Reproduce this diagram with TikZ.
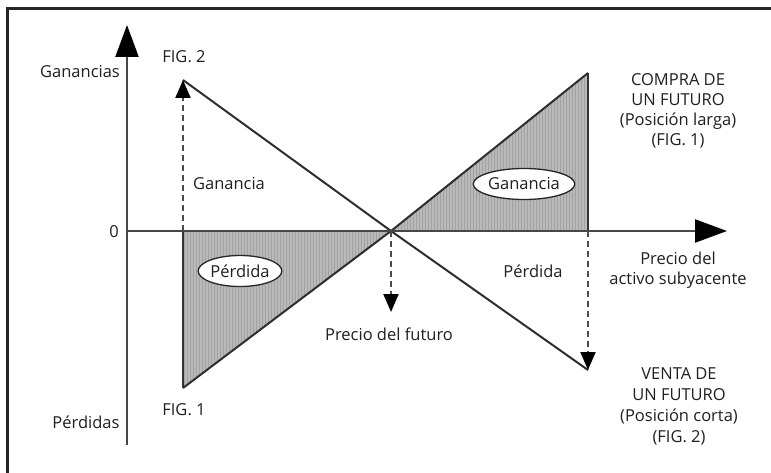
\documentclass[tikz,border=0pt]{standalone}
\usepackage{fontspec}
\setmainfont{Open Sans}
\usetikzlibrary{arrows.meta,shapes.geometric}
\begin{document}
\begin{tikzpicture}[x=1pt,y=-1pt,
  lbl/.style={font=\fontsize{16.5}{20}\selectfont, text=black!88, inner sep=0pt, align=center},
  axisline/.style={line width=2.4pt, draw=black!72, -{Triangle[length=32pt,width=23pt,fill=black,color=black]}},
  payoff/.style={line width=2pt, draw=black!82},
  dasharrow/.style={line width=2pt, draw=black!70, dash pattern=on 6pt off 4pt, -{Triangle[length=18pt,width=15pt,fill=black,color=black]}},
  shadefill/.style={fill=black!27},
  stripe/.style={draw=black!37, line width=0.7pt},
  edge/.style={draw=black!80, line width=1.2pt},
  oval/.style={ellipse, draw=black!85, line width=1.3pt, fill=white, inner sep=0pt, minimum height=31pt, font=\fontsize{16.5}{18}\selectfont, text=black!88}
]
\useasboundingbox (0,0) rectangle (771,473);
% frame
\draw[line width=3pt, draw=black!85] (7,473) -- (7,9) -- (771,9);
% key points
\coordinate (O) at (391,231);
\coordinate (L0) at (183,231);
\coordinate (R0) at (588,231);
\coordinate (Lb) at (183,388);
\coordinate (Rt) at (588,73);
\coordinate (Lt) at (183,80);
\coordinate (Rb) at (588,370);
\coordinate (Ax0) at (127,231);
\coordinate (AxR) at (727,231);
\coordinate (AyB) at (127,445);
\coordinate (AyT) at (127,25);
\coordinate (Fd) at (391,312);
% shaded regions
\fill[shadefill] (L0) -- (O) -- (Lb) -- cycle;
\fill[shadefill] (O) -- (R0) -- (Rt) -- cycle;
\begin{scope}
  \clip (L0) -- (O) -- (Lb) -- cycle;
  \foreach \x in {184,187,...,391} \draw[stripe] (\x,225) -- (\x,395);
\end{scope}
\begin{scope}
  \clip (O) -- (R0) -- (Rt) -- cycle;
  \foreach \x in {392,395,...,590} \draw[stripe] (\x,60) -- (\x,235);
\end{scope}
\draw[edge] (L0) -- (Lb);
\draw[edge] (R0) -- (Rt);
% ovals
\node[oval, minimum width=76pt] (perd) at (240,271) {Pérdida};
\node[oval, minimum width=95pt] (gan) at (524,184) {Ganancia};
% payoff lines
\draw[payoff] (Lb) -- (O) -- (Rt);
\draw[payoff] (Lt) -- (O) -- (Rb);
% dashed arrows
\draw[dasharrow] (L0) -- (Lt);
\draw[dasharrow] (O) -- (Fd);
\draw[dasharrow] (R0) -- (Rb);
% axes
\draw[axisline] (AyB) -- (AyT);
\draw[axisline] (Ax0) -- (AxR);
% labels
\node[lbl] (ganancias) at (80,72) {Ganancias};
\node[lbl] (perdidas) at (86,422) {Pérdidas};
\node[lbl] (cero) at (114,232) {0};
\node[lbl] (fig2) at (184,57) {FIG. 2};
\node[lbl] (fig1) at (184,410) {FIG. 1};
\node[lbl] (ganl) at (229,184) {Ganancia};
\node[lbl] (perdr) at (533,271) {Pérdida};
\node[lbl] (pfut) at (389,334) {Precio del futuro};
\node[lbl] (pact) at (678,270) {Precio del\\activo subyacente};
\node[lbl] (compra) at (678,111) {COMPRA DE\\UN FUTURO\\(Posición larga)\\(FIG. 1)};
\node[lbl, font=\fontsize{16.5}{21}\selectfont] (venta) at (679,406) {VENTA DE\\UN FUTURO\\(Posición corta)\\(FIG. 2)};
\end{tikzpicture}
\end{document}
